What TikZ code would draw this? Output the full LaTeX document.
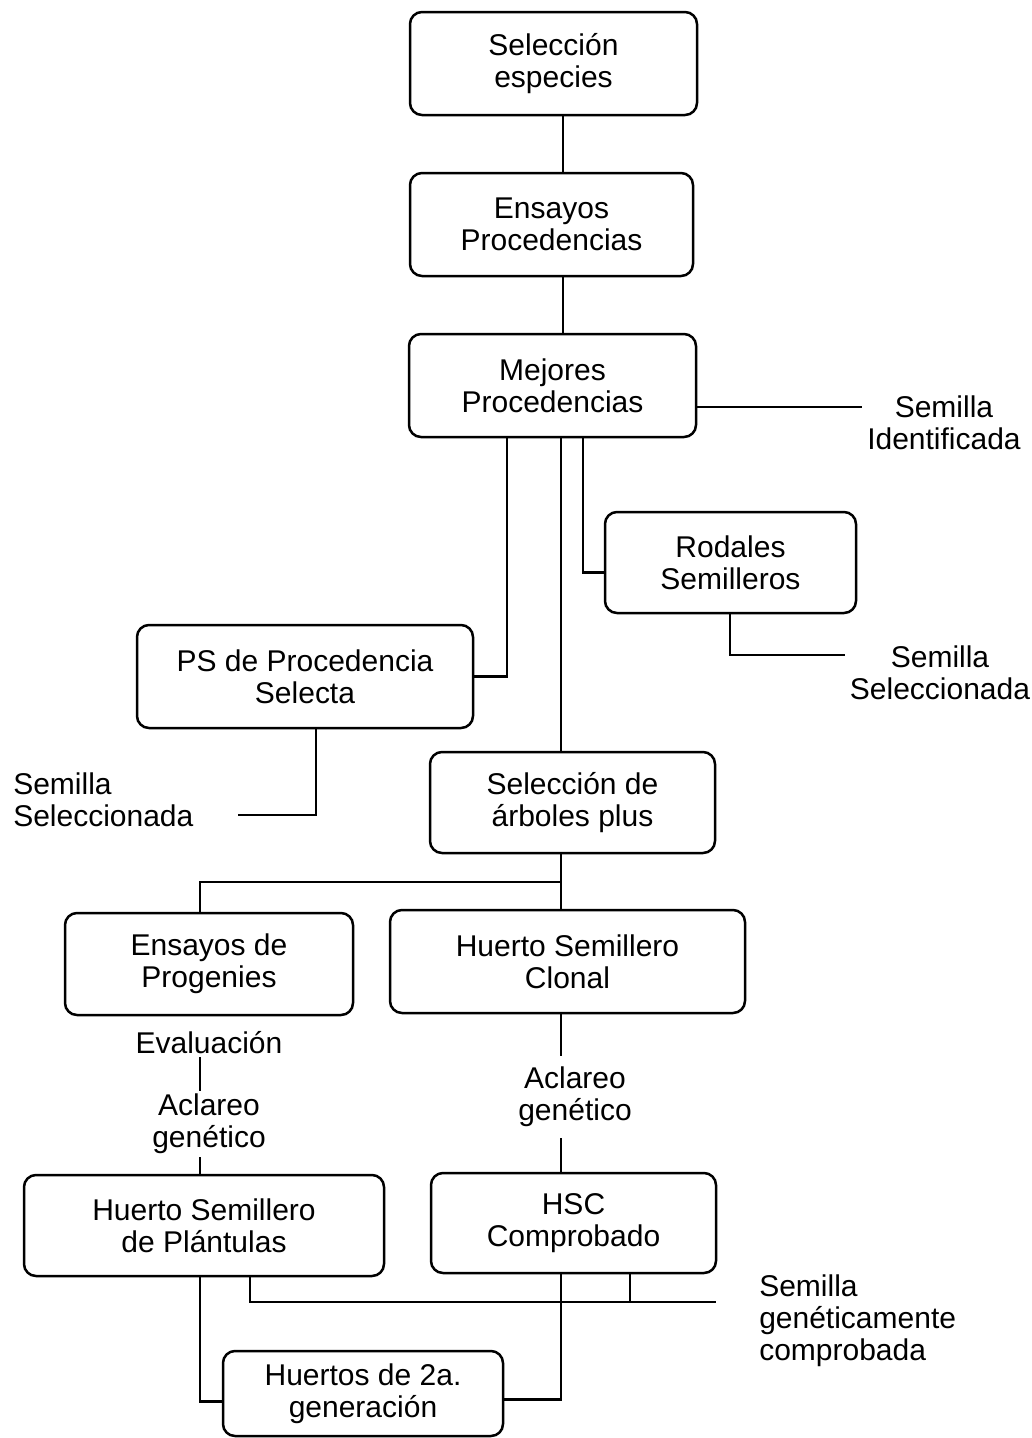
\documentclass[tikz,border=0pt]{standalone}
\usepackage{fontspec}
\setmainfont{Liberation Sans}

\begin{document}
\begin{tikzpicture}[x=1pt, y=-1pt, line width=2.5pt,
    caja/.style={draw, rounded corners=12pt, align=center, inner sep=0pt,
        font=\fontsize{30}{32}\selectfont},
    rotulo/.style={align=center, inner sep=2pt, font=\fontsize{30}{32}\selectfont}]
    \useasboundingbox (0,0) rectangle (1032,1438);
    % cajas
    \node[caja, minimum width=287, minimum height=103] (sel) at (553.5,63.5) {Selección\\especies};
    \node[caja, minimum width=283, minimum height=103] (ens) at (551.5,224.5) {Ensayos\\Procedencias};
    \node[caja, minimum width=287, minimum height=103] (mej) at (552.5,385.5) {Mejores\\Procedencias};
    \node[caja, minimum width=251, minimum height=101] (rod) at (730.5,562.5) {Rodales\\Semilleros};
    \node[caja, minimum width=336, minimum height=103] (ps) at (305,676.5) {PS de Procedencia\\Selecta};
    \node[caja, minimum width=285, minimum height=101] (arb) at (572.5,802.5) {Selección de\\árboles plus};
    \node[caja, minimum width=288, minimum height=102] (prog) at (209,964) {Ensayos de\\Progenies};
    \node[caja, minimum width=355, minimum height=103] (clon) at (567.5,961.5) {Huerto Semillero\\Clonal};
    \node[caja, minimum width=360, minimum height=101] (hsp) at (204,1225.5) {Huerto Semillero\\de Plántulas};
    \node[caja, minimum width=285, minimum height=100] (hsc) at (573.5,1223) {HSC\\Comprobado};
    \node[caja, minimum width=280, minimum height=85] (gen2) at (363,1393.5) {Huertos de 2a.\\generación};
    % rotulos
    \node[rotulo, anchor=west, inner sep=4pt] (ident) at (862,423) {Semilla\\Identificada};
    \node[rotulo, inner sep=4pt] (selR) at (940,673) {Semilla\\Seleccionada};
    \node[rotulo, align=left, anchor=west, inner sep=0pt] (selL) at (12,800) {Semilla\\Seleccionada};
    \node[rotulo] (eval) at (209,1043) {Evaluación};
    \node[rotulo] (acl1) at (209,1124) {Aclareo\\genético};
    \node[rotulo, inner ysep=10pt] (acl2) at (575,1097) {Aclareo\\genético};
    \node[rotulo, align=left, anchor=west, inner sep=0pt] (comp) at (758,1321) {Semilla\\genéticamente\\comprobada};
    % columnas y filas
    \coordinate (eje) at (563,0);
    \coordinate (tronco) at (561,0);
    \coordinate (izq) at (507,0);
    \coordinate (der) at (583,0);
    \coordinate (prc) at (200,0);
    \coordinate (psc) at (316,0);
    \coordinate (rodc) at (730,0);
    \coordinate (hspc) at (250,0);
    \coordinate (hscc) at (630,0);
    \coordinate (split) at (561,882);
    \coordinate (fila) at (0,1302);
    \coordinate (finL) at (238,815);
    \coordinate (finC) at (716,1302);
    \coordinate (ramaI) at (0,407);
    \coordinate (ramaR) at (0,655);
    % conexiones
    \draw (sel.south -| eje) -- (ens.north -| eje);
    \draw (ens.south -| eje) -- (mej.north -| eje);
    \draw (mej.east |- ramaI) -- (ident.west |- ramaI);
    \draw (mej.south -| der) |- ([yshift=-10pt]rod.west);
    \draw (rod.south -| rodc) |- (selR.west |- ramaR);
    \draw (mej.south -| izq) |- (ps.east);
    \draw (ps.south -| psc) |- (finL);
    \draw (mej.south -| tronco) -- (arb.north -| tronco);
    \draw (arb.south -| tronco) -- (clon.north -| tronco);
    \draw (split) -| (prog.north -| prc);
    \draw (eval.south -| prc) -- (acl1.north -| prc);
    \draw (acl1.south -| prc) -- (hsp.north -| prc);
    \draw (clon.south -| tronco) -- (acl2.north -| tronco);
    \draw (acl2.south -| tronco) -- (hsc.north -| tronco);
    \draw (hsp.south -| hspc) |- (finC);
    \draw (hsc.south -| hscc) -- (fila -| hscc);
    \draw (hsp.south -| prc) |- ([yshift=-8pt]gen2.west);
    \draw (hsc.south -| tronco) |- ([yshift=-6pt]gen2.east);
\end{tikzpicture}
\end{document}
